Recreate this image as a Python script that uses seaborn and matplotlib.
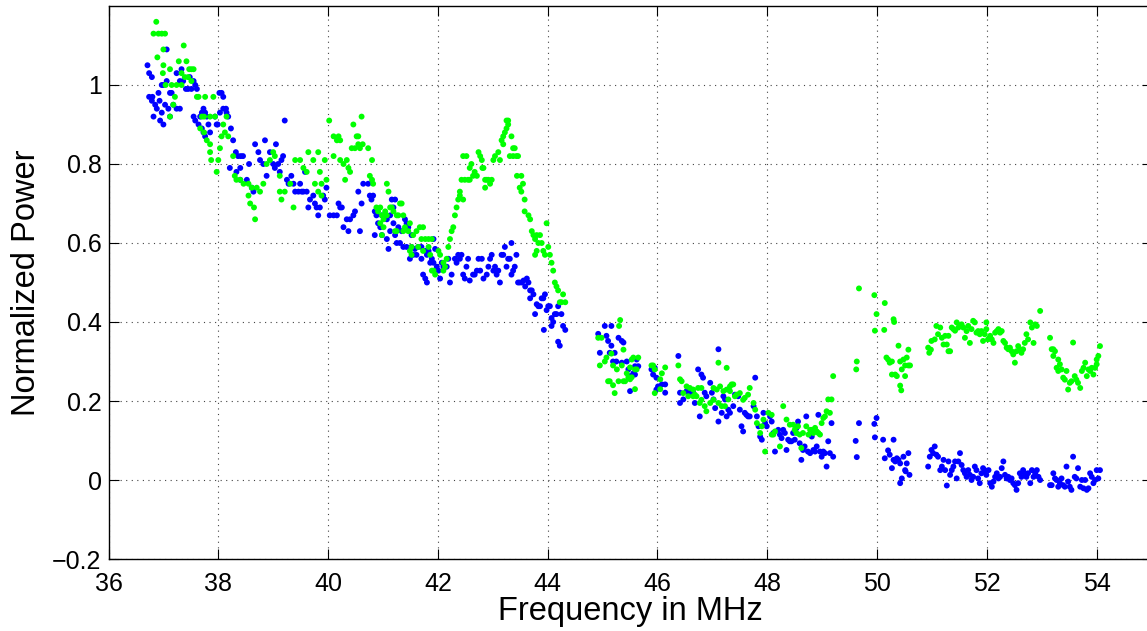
import pandas as pd
import matplotlib
matplotlib.use("Agg")
import matplotlib.pyplot as plt
import seaborn as sns

# (frequency MHz, normalized power), blue series
blue_pts = [
    (36.71, 1.05), (36.74, 1.03), (36.79, 1.02), (37.06, 1.09), (36.74, 0.97), (36.80, 0.97), (36.79, 0.96),
    (36.85, 0.95), (36.82, 0.92), (36.91, 0.98), (36.88, 0.94), (36.93, 0.96), (36.94, 0.91), (37.00, 0.90),
    (36.97, 0.93), (37.03, 0.95), (37.09, 0.94), (37.12, 0.92), (37.18, 0.95), (37.24, 0.94), (37.30, 0.94),
    (36.97, 1.00), (37.00, 1.00), (37.06, 1.01), (37.12, 0.98), (37.15, 0.98), (37.24, 1.03), (37.30, 1.01),
    (37.33, 1.04), (37.36, 1.01), (37.41, 0.99), (37.45, 0.99), (37.48, 1.02), (37.51, 0.99), (37.55, 1.01),
    (37.58, 1.00), (37.61, 0.99), (37.55, 0.92), (37.58, 0.91), (37.64, 0.90), (37.67, 0.92), (37.70, 0.93),
    (37.73, 0.94), (37.76, 0.93), (37.79, 0.92), (37.82, 0.90), (37.70, 0.89), (37.73, 0.88), (37.76, 0.87),
    (37.85, 0.88), (37.94, 0.92), (37.97, 0.90), (37.99, 0.90), (38.02, 0.98), (38.06, 0.98), (38.09, 0.97),
    (38.03, 0.93), (38.09, 0.94), (38.14, 0.94), (38.15, 0.93), (38.18, 0.92), (38.23, 0.89), (38.27, 0.86),
    (38.32, 0.83), (38.36, 0.82), (38.41, 0.82), (38.45, 0.82), (38.21, 0.79), (38.33, 0.78), (38.40, 0.76),
    (38.40, 0.79), (38.52, 0.76), (38.56, 0.80), (38.61, 0.74), (38.64, 0.73), (38.67, 0.85), (38.73, 0.83),
    (38.76, 0.81), (38.82, 0.80), (38.85, 0.86), (38.88, 0.77), (38.94, 0.83), (39.00, 0.80), (39.03, 0.79),
    (39.05, 0.85), (39.09, 0.80), (39.12, 0.78), (39.15, 0.81), (39.18, 0.82), (39.21, 0.91), (39.25, 0.76),
    (39.28, 0.75), (39.33, 0.77), (39.37, 0.75), (39.40, 0.73), (39.46, 0.73), (39.49, 0.75), (39.52, 0.73),
    (39.55, 0.73), (39.58, 0.78), (39.61, 0.73), (39.64, 0.69), (39.67, 0.71), (39.73, 0.72), (39.76, 0.70),
    (39.79, 0.69), (39.82, 0.67), (39.85, 0.69), (39.91, 0.72), (39.94, 0.71), (39.97, 0.74), (40.03, 0.67),
    (40.10, 0.67), (40.16, 0.67), (40.19, 0.70), (40.22, 0.69), (40.25, 0.69), (40.28, 0.64), (40.34, 0.66),
    (40.37, 0.63), (40.40, 0.66), (40.46, 0.67), (40.49, 0.68), (40.55, 0.73), (40.58, 0.63),
    (40.64, 0.75), (40.73, 0.75), (40.76, 0.72), (40.79, 0.71), (40.82, 0.72), (40.61, 0.70), (40.85, 0.68),
    (40.88, 0.67), (40.91, 0.65), (40.95, 0.64), (40.98, 0.67), (41.04, 0.67), (41.07, 0.66), (41.13, 0.67),
    (41.16, 0.71), (41.22, 0.71), (41.19, 0.69), (41.19, 0.65), (41.28, 0.64), (41.34, 0.63), (41.40, 0.66),
    (41.43, 0.65), (41.46, 0.64), (41.52, 0.62), (40.85, 0.62), (40.98, 0.62), (41.07, 0.61), (41.13, 0.63),
    (41.22, 0.62), (41.25, 0.60), (41.31, 0.60), (41.37, 0.59), (41.10, 0.585), (41.43, 0.59), (41.52, 0.59),
    (41.58, 0.585), (41.64, 0.59), (41.70, 0.59), (41.77, 0.58), (41.83, 0.58), (41.92, 0.61), (41.95, 0.585),
    (41.49, 0.56), (41.55, 0.57), (41.61, 0.57), (41.70, 0.56), (41.80, 0.57), (41.89, 0.56), (41.73, 0.52),
    (41.77, 0.51), (41.80, 0.50), (41.86, 0.55), (41.92, 0.55), (41.98, 0.54), (42.01, 0.53), (42.04, 0.51),
    (42.07, 0.55), (42.10, 0.54), (42.16, 0.54), (42.19, 0.56), (42.22, 0.50), (42.25, 0.52), (42.31, 0.56),
    (42.34, 0.55), (42.37, 0.57), (42.40, 0.56), (42.43, 0.57), (42.46, 0.52), (42.49, 0.51), (42.52, 0.54),
    (42.55, 0.56), (42.58, 0.505), (42.64, 0.52), (42.67, 0.52), (42.71, 0.53), (42.74, 0.56), (42.77, 0.53),
    (42.80, 0.56), (42.83, 0.51), (42.89, 0.52), (42.92, 0.54), (42.95, 0.56), (42.98, 0.57), (43.01, 0.53),
    (43.04, 0.54), (43.07, 0.52), (43.10, 0.53), (43.13, 0.50), (43.16, 0.57), (43.19, 0.57), (43.22, 0.59),
    (43.25, 0.54), (43.28, 0.56), (43.31, 0.56), (43.34, 0.60), (43.34, 0.52), (43.37, 0.53), (43.40, 0.54),
    (43.43, 0.57), (43.46, 0.50), (43.49, 0.50), (43.53, 0.50), (43.56, 0.505), (43.59, 0.49), (43.62, 0.51),
    (43.65, 0.50), (43.68, 0.48), (43.71, 0.48), (43.68, 0.46), (43.74, 0.47), (43.77, 0.42), (43.80, 0.445),
    (43.83, 0.44), (43.86, 0.44), (43.89, 0.46), (43.92, 0.46), (43.93, 0.38), (43.95, 0.47), (43.98, 0.43),
    (44.01, 0.44), (44.04, 0.44), (44.07, 0.41), (44.07, 0.39), (44.10, 0.40), (44.13, 0.42), (44.16, 0.42),
    (44.19, 0.44), (44.19, 0.35), (44.22, 0.34), (44.25, 0.42), (44.28, 0.39), (44.32, 0.38),
    (44.92, 0.37), (45.04, 0.39), (45.16, 0.39), (45.07, 0.365), (45.10, 0.352), (45.16, 0.34), (44.95, 0.322),
    (45.13, 0.322), (45.19, 0.30), (45.25, 0.30), (45.29, 0.36), (45.35, 0.352), (45.38, 0.348), (45.44, 0.30),
    (45.47, 0.28), (45.50, 0.263), (45.56, 0.27), (45.59, 0.288), (45.62, 0.305), (45.65, 0.288), (45.59, 0.267),
    (45.50, 0.225), (45.35, 0.297), (45.22, 0.322),
    (45.89, 0.28), (45.92, 0.267), (45.95, 0.284), (45.98, 0.259), (46.01, 0.237), (46.08, 0.242), (46.14, 0.242),
    (46.14, 0.221), (45.98, 0.229),
    (46.38, 0.314), (46.41, 0.221), (46.41, 0.195), (46.47, 0.204), (46.53, 0.225), (46.59, 0.221), (46.65, 0.221),
    (46.68, 0.195), (46.74, 0.28), (46.77, 0.161), (46.80, 0.267), (46.83, 0.259), (46.86, 0.221), (46.89, 0.212),
    (46.96, 0.246), (46.99, 0.221), (47.02, 0.204), (47.05, 0.182), (47.11, 0.331), (47.11, 0.148), (47.17, 0.170),
    (47.20, 0.212), (47.23, 0.204), (47.26, 0.161), (47.29, 0.178), (47.32, 0.170), (47.38, 0.187), (47.41, 0.216),
    (47.47, 0.212), (47.50, 0.178), (47.53, 0.136), (47.56, 0.123), (47.59, 0.170), (47.62, 0.165), (47.65, 0.161),
    (47.68, 0.161), (47.75, 0.187), (47.78, 0.259), (47.81, 0.161), (47.84, 0.136), (47.87, 0.110), (47.90, 0.102),
    (47.93, 0.170), (47.96, 0.144), (47.99, 0.136), (48.05, 0.161), (48.08, 0.148), (48.11, 0.119), (48.14, 0.072),
    (48.20, 0.127), (48.23, 0.115), (48.26, 0.106), (48.29, 0.127), (48.32, 0.119), (48.35, 0.076), (48.38, 0.102),
    (48.41, 0.098), (48.44, 0.098), (48.47, 0.119), (48.50, 0.102), (48.53, 0.131), (48.56, 0.148), (48.59, 0.093),
    (48.62, 0.051), (48.65, 0.076), (48.68, 0.085), (48.71, 0.161), (48.74, 0.072), (48.78, 0.068), (48.81, 0.110),
    (48.84, 0.076), (48.87, 0.072), (48.90, 0.085), (48.93, 0.165), (48.96, 0.072), (48.99, 0.059), (49.02, 0.072),
    (49.05, 0.068), (49.08, 0.034), (49.11, 0.098), (49.14, 0.068), (49.17, 0.144), (49.20, 0.059),
    (49.61, 0.099), (49.63, 0.058), (49.67, 0.144), (49.95, 0.142), (49.99, 0.157), (49.96, 0.108), (50.11, 0.102),
    (50.30, 0.102), (50.14, 0.055), (50.20, 0.075), (50.23, 0.064), (50.27, 0.030), (50.30, 0.051), (50.33, 0.047),
    (50.36, 0.055), (50.39, 0.051), (50.42, 0.042), (50.45, 0.004), (50.42, -0.008), (50.48, 0.059), (50.51, 0.025),
    (50.54, 0.042), (50.57, 0.068), (50.59, 0.013), (50.52, 0.022),
    (50.93, 0.034), (50.96, 0.059), (50.99, 0.076), (51.02, 0.068), (51.05, 0.085), (51.08, 0.064), (51.11, 0.059),
    (51.15, 0.025), (51.18, 0.034), (51.21, 0.051), (51.24, 0.025), (51.27, -0.014), (51.30, 0.047), (51.33, 0.013),
    (51.36, 0.025), (51.39, 0.034), (51.42, 0.047), (51.45, 0.004), (51.48, 0.047), (51.51, 0.068), (51.54, 0.038),
    (51.57, 0.025), (51.60, 0.017), (51.63, 0.008), (51.66, 0.025), (51.69, 0.013), (51.72, 0.000), (51.75, 0.008),
    (51.78, 0.034), (51.81, 0.025), (51.84, 0.004), (51.87, -0.008), (51.90, 0.017), (51.93, 0.030), (51.96, 0.025),
    (51.99, 0.013), (52.03, 0.025), (52.06, -0.008), (52.09, -0.017), (52.12, -0.004), (52.15, 0.008), (52.18, 0.017),
    (52.21, 0.004), (52.24, 0.008), (52.27, 0.030), (52.30, 0.047), (52.33, 0.013), (52.36, 0.004), (52.39, 0.008),
    (52.42, 0.000), (52.45, 0.004), (52.48, -0.008), (52.51, -0.013), (52.54, -0.025), (52.57, -0.008), (52.60, 0.017),
    (52.63, 0.008), (52.66, 0.025), (52.69, 0.017), (52.72, 0.008), (52.75, 0.017), (52.79, -0.008), (52.82, 0.025),
    (52.85, 0.008), (52.88, 0.017), (52.91, 0.025), (52.94, 0.008), (52.97, 0.000),
    (53.15, -0.013), (53.18, -0.013), (53.21, 0.017), (53.24, 0.004), (53.27, 0.000), (53.30, -0.017), (53.33, -0.008),
    (53.36, 0.004), (53.39, -0.013), (53.42, -0.017), (53.45, 0.034), (53.48, -0.004), (53.51, -0.017), (53.54, -0.025),
    (53.57, 0.059), (53.60, 0.008), (53.63, 0.004), (53.66, 0.030), (53.70, -0.017), (53.73, 0.000), (53.76, -0.021),
    (53.79, 0.000), (53.82, -0.025), (53.85, -0.021), (53.88, 0.017), (53.91, 0.008), (53.94, -0.008), (53.97, 0.000),
    (54.00, 0.025), (54.03, 0.004), (54.06, 0.025),
]

# green series
green_pts = [
    (36.87, 1.16), (36.82, 1.13), (36.91, 1.13), (36.97, 1.13), (37.03, 1.13), (37.00, 1.09), (36.89, 1.07),
    (37.37, 1.10), (37.00, 1.05), (37.12, 1.04), (36.99, 1.03), (37.28, 1.06), (37.42, 1.06), (37.51, 1.04),
    (37.47, 1.04), (37.55, 1.04), (37.33, 1.03), (37.39, 1.02), (37.04, 1.00), (37.15, 1.00), (37.24, 1.00),
    (37.33, 1.00), (37.21, 0.97), (37.18, 0.95), (37.12, 0.92), (37.45, 1.02), (37.51, 1.01), (37.61, 0.97),
    (37.64, 0.97), (37.76, 0.97), (37.91, 0.97), (37.70, 0.92), (37.74, 0.92), (37.85, 0.92), (37.94, 0.92),
    (37.67, 0.89), (37.74, 0.88), (37.79, 0.86), (37.85, 0.85), (37.85, 0.83), (37.87, 0.81), (37.97, 0.78),
    (38.00, 0.81), (38.03, 0.84), (38.06, 0.87), (38.09, 0.90), (38.12, 0.88), (38.18, 0.87), (38.15, 0.92),
    (38.27, 0.82), (38.30, 0.77), (38.33, 0.76), (38.40, 0.76), (38.46, 0.75), (38.55, 0.72), (38.58, 0.70),
    (38.65, 0.69), (38.67, 0.66), (38.55, 0.75), (38.61, 0.74), (38.70, 0.74), (38.76, 0.73), (38.82, 0.75),
    (38.88, 0.80), (38.94, 0.81), (39.00, 0.83), (39.03, 0.82), (39.12, 0.77), (39.12, 0.73), (39.15, 0.71),
    (39.21, 0.73), (39.31, 0.75), (39.37, 0.69), (39.40, 0.81), (39.49, 0.81), (39.55, 0.79), (39.61, 0.78),
    (39.64, 0.83), (39.73, 0.81), (39.82, 0.83), (39.85, 0.78), (39.94, 0.81), (39.97, 0.76), (39.76, 0.75),
    (39.82, 0.73), (39.88, 0.75), (39.88, 0.72), (40.02, 0.91), (40.10, 0.87), (40.16, 0.86), (40.19, 0.87),
    (40.22, 0.86), (40.10, 0.82), (40.22, 0.81), (40.28, 0.80), (40.34, 0.81), (40.37, 0.79), (40.40, 0.78),
    (40.31, 0.76), (40.46, 0.90), (40.52, 0.87), (40.55, 0.87),
    (40.43, 0.84), (40.49, 0.84), (40.55, 0.85), (40.58, 0.84), (40.63, 0.85), (40.73, 0.84), (40.61, 0.92),
    (40.80, 0.81), (40.76, 0.77), (40.82, 0.75), (40.80, 0.76), (41.07, 0.75), (41.10, 0.73), (40.88, 0.69),
    (40.91, 0.68), (40.95, 0.69), (40.98, 0.67), (41.04, 0.68), (41.01, 0.66), (41.07, 0.67), (41.13, 0.69),
    (41.16, 0.69), (41.19, 0.68), (41.25, 0.67), (41.31, 0.70), (41.34, 0.70), (41.28, 0.67), (41.37, 0.67),
    (41.40, 0.64), (41.25, 0.63), (40.95, 0.65), (41.01, 0.64), (40.98, 0.62), (41.22, 0.63), (41.37, 0.63),
    (41.49, 0.65), (41.46, 0.63), (41.55, 0.62), (41.61, 0.63), (41.67, 0.64), (41.73, 0.64), (41.70, 0.61),
    (41.77, 0.61), (41.83, 0.59), (41.89, 0.61), (41.83, 0.61), (41.52, 0.59), (41.49, 0.58), (41.52, 0.57),
    (41.64, 0.59), (41.73, 0.58), (41.86, 0.57), (41.92, 0.53), (41.95, 0.52), (41.89, 0.53), (42.01, 0.58),
    (42.04, 0.57), (42.10, 0.55), (42.10, 0.53), (42.13, 0.54), (42.16, 0.56), (42.19, 0.59), (42.22, 0.61),
    (42.25, 0.63), (42.28, 0.64), (42.31, 0.67), (42.34, 0.69), (42.37, 0.71), (42.40, 0.73), (42.43, 0.76),
    (42.49, 0.76), (42.55, 0.76), (42.58, 0.76), (42.40, 0.72), (42.46, 0.71), (42.46, 0.82), (42.52, 0.82),
    (42.58, 0.79), (42.61, 0.80), (42.64, 0.77), (42.67, 0.78), (42.71, 0.77), (42.74, 0.83), (42.77, 0.82),
    (42.80, 0.81), (42.81, 0.79), (42.83, 0.79), (42.86, 0.76), (42.89, 0.76), (42.92, 0.76), (42.95, 0.75),
    (42.86, 0.74), (42.98, 0.76), (43.01, 0.81), (43.04, 0.82), (43.10, 0.83), (43.13, 0.81), (43.19, 0.85),
    (43.16, 0.86), (43.19, 0.87), (43.22, 0.88), (43.25, 0.89), (43.28, 0.90), (43.25, 0.91), (43.28, 0.91),
    (43.34, 0.87), (43.37, 0.84), (43.40, 0.84), (43.43, 0.82), (43.31, 0.82), (43.37, 0.82), (43.46, 0.82),
    (43.44, 0.77), (43.52, 0.77), (43.49, 0.74), (43.55, 0.75), (43.52, 0.73), (43.58, 0.71), (43.58, 0.68),
    (43.65, 0.67), (43.68, 0.66), (43.71, 0.63), (43.74, 0.62), (43.77, 0.61), (43.80, 0.62), (43.86, 0.62),
    (43.89, 0.60), (43.83, 0.60), (43.77, 0.57), (43.80, 0.58), (43.92, 0.58), (43.95, 0.57), (44.01, 0.59),
    (43.98, 0.65), (44.04, 0.57), (44.07, 0.55), (44.10, 0.53), (44.13, 0.50), (44.16, 0.49), (44.19, 0.48),
    (44.22, 0.45), (44.25, 0.45), (44.28, 0.47), (44.32, 0.45),
    (44.92, 0.36), (44.98, 0.36), (45.32, 0.405), (45.30, 0.39), (45.16, 0.32), (45.07, 0.31), (44.95, 0.29),
    (45.04, 0.30), (45.19, 0.29), (45.26, 0.28), (45.35, 0.29), (45.38, 0.33), (45.44, 0.27), (45.50, 0.285),
    (45.53, 0.305), (45.56, 0.31), (45.59, 0.28), (45.62, 0.28), (45.65, 0.31), (45.13, 0.25), (45.10, 0.25),
    (45.29, 0.25), (45.38, 0.25), (45.47, 0.26), (45.50, 0.255), (45.53, 0.26), (45.19, 0.24), (45.59, 0.23),
    (45.22, 0.22), (45.41, 0.25),
    (45.89, 0.29), (45.92, 0.29), (45.95, 0.28), (46.05, 0.255), (46.08, 0.27), (46.14, 0.285), (46.05, 0.23),
    (45.95, 0.22),
    (46.38, 0.29), (46.41, 0.255), (46.44, 0.25), (46.53, 0.237), (46.59, 0.233), (46.65, 0.229), (46.74, 0.233),
    (46.80, 0.233), (46.47, 0.22), (46.56, 0.212), (46.65, 0.212), (46.68, 0.216), (46.71, 0.212), (46.77, 0.195),
    (46.80, 0.203), (46.86, 0.187), (46.89, 0.174), (47.11, 0.297), (47.26, 0.284), (47.02, 0.233), (47.08, 0.229),
    (47.14, 0.237), (47.20, 0.225), (47.26, 0.229), (47.32, 0.237), (47.35, 0.242), (47.38, 0.242), (47.41, 0.212),
    (47.44, 0.216), (46.96, 0.195), (47.02, 0.203), (47.11, 0.195), (47.17, 0.187), (47.23, 0.187), (47.29, 0.204),
    (47.32, 0.225), (47.50, 0.220), (47.56, 0.203), (47.59, 0.208), (47.65, 0.216), (47.68, 0.233), (47.75, 0.195),
    (47.78, 0.178), (47.81, 0.144), (47.87, 0.119), (47.90, 0.136), (47.93, 0.153), (47.96, 0.072), (48.02, 0.170),
    (48.08, 0.165), (48.08, 0.115), (48.11, 0.115), (48.14, 0.123), (48.23, 0.085), (48.29, 0.187), (48.35, 0.153),
    (48.41, 0.140), (48.47, 0.140), (48.50, 0.127), (48.53, 0.119), (48.56, 0.136), (48.59, 0.115), (48.62, 0.081),
    (48.65, 0.119), (48.71, 0.136), (48.75, 0.115), (48.78, 0.127), (48.81, 0.127), (48.84, 0.119), (48.87, 0.132),
    (48.90, 0.123), (48.93, 0.119), (48.96, 0.115), (48.99, 0.144), (49.02, 0.157), (49.05, 0.161), (49.08, 0.174),
    (49.11, 0.204), (49.14, 0.170), (49.17, 0.204), (49.20, 0.263),
    (49.67, 0.485), (49.63, 0.300), (49.62, 0.280), (49.95, 0.468), (49.99, 0.420), (49.96, 0.378), (50.14, 0.448),
    (50.13, 0.380), (50.30, 0.407), (50.31, 0.400),
    (50.17, 0.310), (50.20, 0.305), (50.23, 0.297), (50.27, 0.300), (50.27, 0.267), (50.33, 0.267), (50.36, 0.263),
    (50.39, 0.340), (50.42, 0.300), (50.45, 0.280), (50.48, 0.305), (50.51, 0.263), (50.51, 0.290), (50.54, 0.310),
    (50.57, 0.290), (50.60, 0.290), (50.57, 0.330), (50.42, 0.239), (50.44, 0.227),
    (50.93, 0.335), (50.95, 0.322), (50.98, 0.330), (50.99, 0.352), (51.05, 0.356), (51.08, 0.390), (51.11, 0.369),
    (51.15, 0.386), (51.18, 0.360), (51.21, 0.343), (51.24, 0.365), (51.27, 0.343), (51.30, 0.326), (51.33, 0.326),
    (51.30, 0.365), (51.36, 0.386), (51.39, 0.382), (51.42, 0.378), (51.45, 0.399), (51.48, 0.386), (51.51, 0.390),
    (51.54, 0.394), (51.57, 0.386), (51.60, 0.360), (51.63, 0.377), (51.66, 0.390), (51.69, 0.347), (51.72, 0.382),
    (51.75, 0.403), (51.78, 0.399), (51.81, 0.373), (51.84, 0.377), (51.87, 0.369), (51.90, 0.377), (51.93, 0.352),
    (51.96, 0.369), (51.99, 0.399), (51.99, 0.382), (52.02, 0.356), (52.06, 0.365), (52.09, 0.356), (52.12, 0.347),
    (52.15, 0.373), (52.18, 0.377), (52.21, 0.382), (52.24, 0.373), (52.27, 0.377), (52.30, 0.352), (52.33, 0.347),
    (52.36, 0.335), (52.39, 0.331), (52.42, 0.335), (52.45, 0.326), (52.48, 0.318), (52.51, 0.297), (52.54, 0.326),
    (52.57, 0.339), (52.60, 0.331), (52.63, 0.322), (52.66, 0.331), (52.69, 0.347), (52.72, 0.369), (52.75, 0.356),
    (52.79, 0.399), (52.82, 0.386), (52.85, 0.347), (52.88, 0.394), (52.91, 0.390), (52.97, 0.428),
    (53.15, 0.360), (53.18, 0.331), (53.21, 0.331), (53.24, 0.326), (53.21, 0.314), (53.30, 0.305), (53.27, 0.284),
    (53.30, 0.276), (53.33, 0.293), (53.36, 0.280), (53.39, 0.259), (53.42, 0.254), (53.45, 0.276), (53.51, 0.246),
    (53.48, 0.229), (53.54, 0.250), (53.57, 0.348), (53.60, 0.263), (53.63, 0.254), (53.66, 0.246), (53.70, 0.233),
    (53.73, 0.276), (53.76, 0.284), (53.79, 0.297), (53.82, 0.263), (53.85, 0.280), (53.88, 0.276), (53.91, 0.284),
    (53.94, 0.267), (53.97, 0.284), (54.00, 0.305), (54.03, 0.314), (54.06, 0.339), (54.00, 0.293),
]

x_ticks = [36, 38, 40, 42, 44, 46, 48, 50, 52, 54]
y_ticks = [-0.2, 0, 0.2, 0.4, 0.6, 0.8, 1]
y_tick_labels = ['\u22120.2', '0', '0.2', '0.4', '0.6', '0.8', '1']

df = pd.concat([
    pd.DataFrame(blue_pts, columns=['freq', 'power']).assign(series='blue'),
    pd.DataFrame(green_pts, columns=['freq', 'power']).assign(series='green'),
], ignore_index=True)

sns.set_style("ticks")
plt.rcParams['font.family'] = ['Liberation Sans', 'DejaVu Sans']

fig = plt.figure(figsize=(11.47, 6.31), dpi=100)
# the original is cropped: the axes box runs just past the right edge
ax = fig.add_axes([0.0946, 0.1141, 0.9094, 0.8764])

sns.scatterplot(data=df, x='freq', y='power', hue='series',
                palette={'blue': '#0000ff', 'green': '#00ff00'},
                s=18, linewidth=0, legend=False, ax=ax)

ax.set_xlim(36, 55)
ax.set_ylim(-0.2, 1.2)
ax.set_xticks(x_ticks)
ax.set_yticks(y_ticks)
ax.set_yticklabels(y_tick_labels)
ax.grid(True, color='#444444', linestyle=(0, (1, 4)), linewidth=0.8)
ax.tick_params(direction='in', length=7, width=0.8, labelsize=18,
               top=True, right=True, colors='black')
ax.tick_params(axis='x', pad=9)
ax.tick_params(axis='y', pad=5)
for sp in ax.spines.values():
    sp.set_linewidth(1.0)
    sp.set_color('black')

ax.set_xlabel('Frequency in MHz', fontsize=23.5, labelpad=0, color='black')
ax.set_ylabel('Normalized Power', fontsize=23.5, labelpad=7, color='black')

fig.savefig('out.png', dpi=100)
